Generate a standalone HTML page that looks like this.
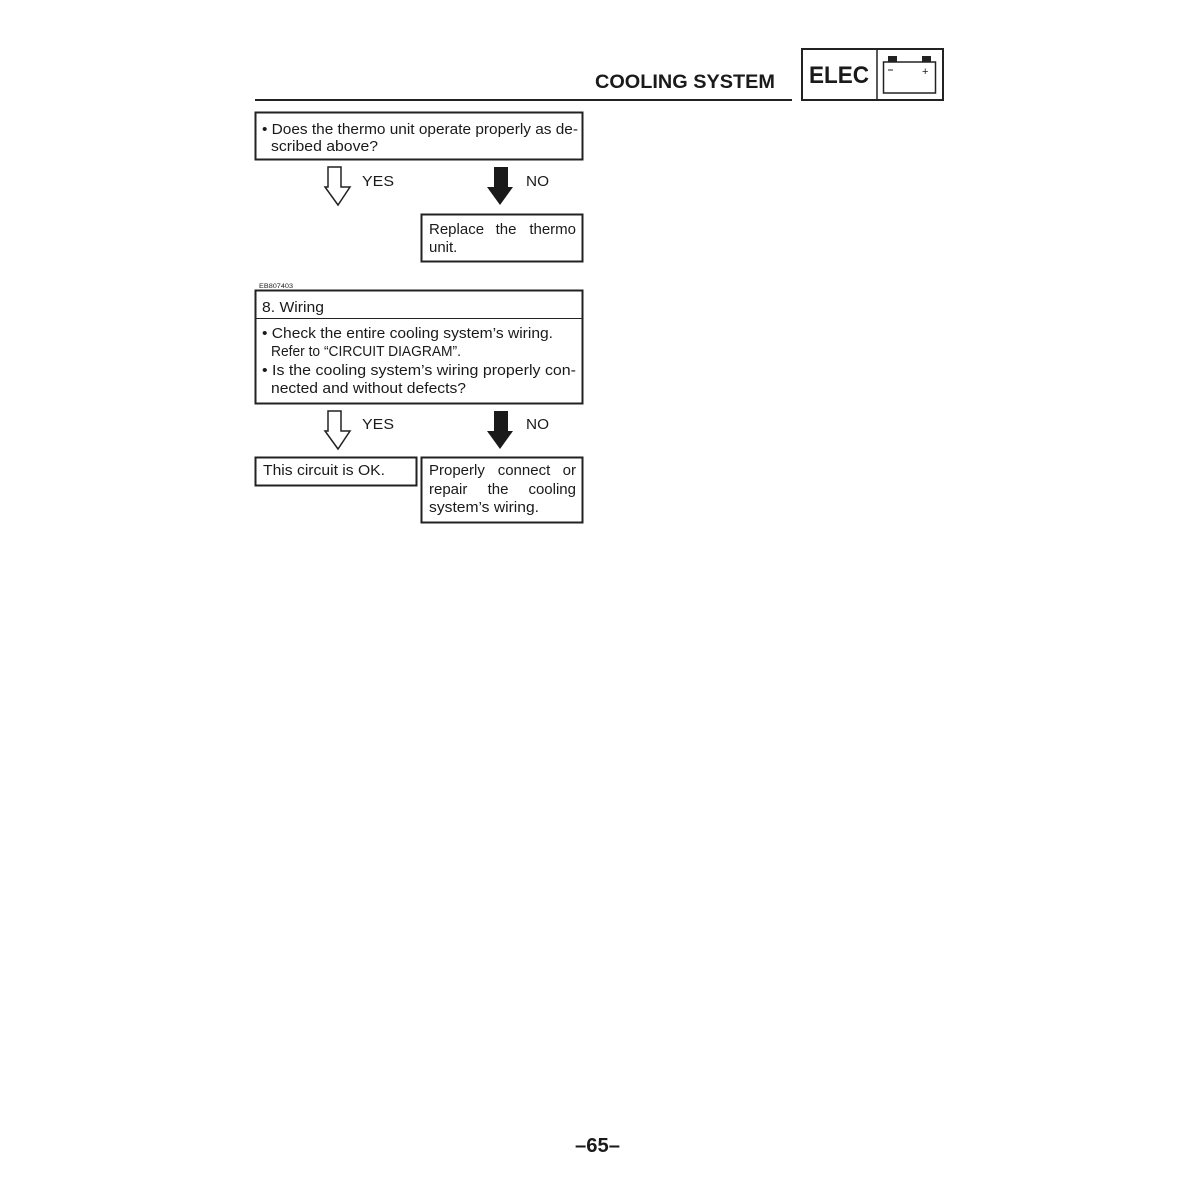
<!DOCTYPE html>
<html><head><meta charset="utf-8"><style>
html,body{margin:0;padding:0;background:#fff;}
svg{display:block;}
text{font-family:"Liberation Sans",Arial,sans-serif;fill:#1a1a1a;}
</style></head><body>
<svg width="1200" height="1200" viewBox="0 0 1200 1200" xmlns="http://www.w3.org/2000/svg">
<rect width="1200" height="1200" fill="#fff"/>
<!-- header -->
<text x="595" y="88" font-size="19" font-weight="bold" textLength="180" lengthAdjust="spacingAndGlyphs">COOLING SYSTEM</text>
<rect x="255" y="99" width="537" height="2" fill="#222"/>
<rect x="802" y="49" width="141" height="51" fill="none" stroke="#222" stroke-width="2"/>
<line x1="877" y1="49" x2="877" y2="100" stroke="#222" stroke-width="1.5"/>
<text x="809" y="83" font-size="24" font-weight="bold" textLength="60" lengthAdjust="spacingAndGlyphs">ELEC</text>
<rect x="883.5" y="62" width="52" height="31" fill="none" stroke="#222" stroke-width="1.5"/>
<rect x="888" y="56" width="9" height="6" fill="#222"/>
<rect x="922" y="56" width="9" height="6" fill="#222"/>
<line x1="888" y1="70" x2="893" y2="70" stroke="#222" stroke-width="1"/>
<text x="922" y="75" font-size="11">+</text>

<!-- box1 -->
<rect x="255.5" y="112.5" width="327" height="47" fill="none" stroke="#222" stroke-width="2"/>
<text x="262" y="134" font-size="15" textLength="316" lengthAdjust="spacingAndGlyphs">• Does the thermo unit operate properly as de-</text>
<text x="271" y="151" font-size="15" textLength="107" lengthAdjust="spacingAndGlyphs">scribed above?</text>

<!-- arrows 1 -->
<polygon points="328,167 341,167 341,187 350,187 338,205 325,187 328,187" fill="#fff" stroke="#222" stroke-width="1.5"/>
<text x="362" y="186" font-size="15" textLength="32" lengthAdjust="spacingAndGlyphs">YES</text>
<polygon points="494,167 508,167 508,187 513,187 500,205 487,187 494,187" fill="#1a1a1a"/>
<text x="526" y="186" font-size="15" textLength="23" lengthAdjust="spacingAndGlyphs">NO</text>

<!-- box2 -->
<rect x="421.5" y="214.5" width="161" height="47" fill="none" stroke="#222" stroke-width="2"/>
<text x="429" y="234" font-size="15">Replace</text>
<text x="506" y="234" font-size="15" text-anchor="middle">the</text>
<text x="576" y="234" font-size="15" text-anchor="end">thermo</text>
<text x="429" y="252" font-size="15">unit.</text>

<!-- section 8 -->
<text x="259" y="288" font-size="6" textLength="34" lengthAdjust="spacingAndGlyphs">EB807403</text>
<rect x="255.5" y="290.5" width="327" height="113" fill="none" stroke="#222" stroke-width="2"/>
<line x1="256" y1="318.5" x2="582" y2="318.5" stroke="#222" stroke-width="1"/>
<text x="262" y="312" font-size="15" textLength="62" lengthAdjust="spacingAndGlyphs">8. Wiring</text>
<text x="262" y="338" font-size="15" textLength="291" lengthAdjust="spacingAndGlyphs">• Check the entire cooling system’s wiring.</text>
<text x="271" y="356" font-size="15" textLength="190" lengthAdjust="spacingAndGlyphs">Refer to “CIRCUIT DIAGRAM”.</text>
<text x="262" y="375" font-size="15" textLength="314" lengthAdjust="spacingAndGlyphs">• Is the cooling system’s wiring properly con-</text>
<text x="271" y="393" font-size="15" textLength="195" lengthAdjust="spacingAndGlyphs">nected and without defects?</text>

<!-- arrows 2 -->
<polygon points="328,411 341,411 341,431 350,431 338,449 325,431 328,431" fill="#fff" stroke="#222" stroke-width="1.5"/>
<text x="362" y="429" font-size="15" textLength="32" lengthAdjust="spacingAndGlyphs">YES</text>
<polygon points="494,411 508,411 508,431 513,431 500,449 487,431 494,431" fill="#1a1a1a"/>
<text x="526" y="429" font-size="15" textLength="23" lengthAdjust="spacingAndGlyphs">NO</text>

<!-- box4 -->
<rect x="255.5" y="457.5" width="161" height="28" fill="none" stroke="#222" stroke-width="2"/>
<text x="263" y="475" font-size="15" textLength="122" lengthAdjust="spacingAndGlyphs">This circuit is OK.</text>

<!-- box5 -->
<rect x="421.5" y="457.5" width="161" height="65" fill="none" stroke="#222" stroke-width="2"/>
<text x="429" y="475" font-size="15">Properly</text>
<text x="524" y="475" font-size="15" text-anchor="middle">connect</text>
<text x="576" y="475" font-size="15" text-anchor="end">or</text>
<text x="429" y="494" font-size="15">repair</text>
<text x="498" y="494" font-size="15" text-anchor="middle">the</text>
<text x="576" y="494" font-size="15" text-anchor="end">cooling</text>
<text x="429" y="512" font-size="15" textLength="110" lengthAdjust="spacingAndGlyphs">system’s wiring.</text>

<!-- page number -->
<text x="575" y="1152" font-size="20" font-weight="bold" textLength="45" lengthAdjust="spacingAndGlyphs">–65–</text>
</svg>
</body></html>
